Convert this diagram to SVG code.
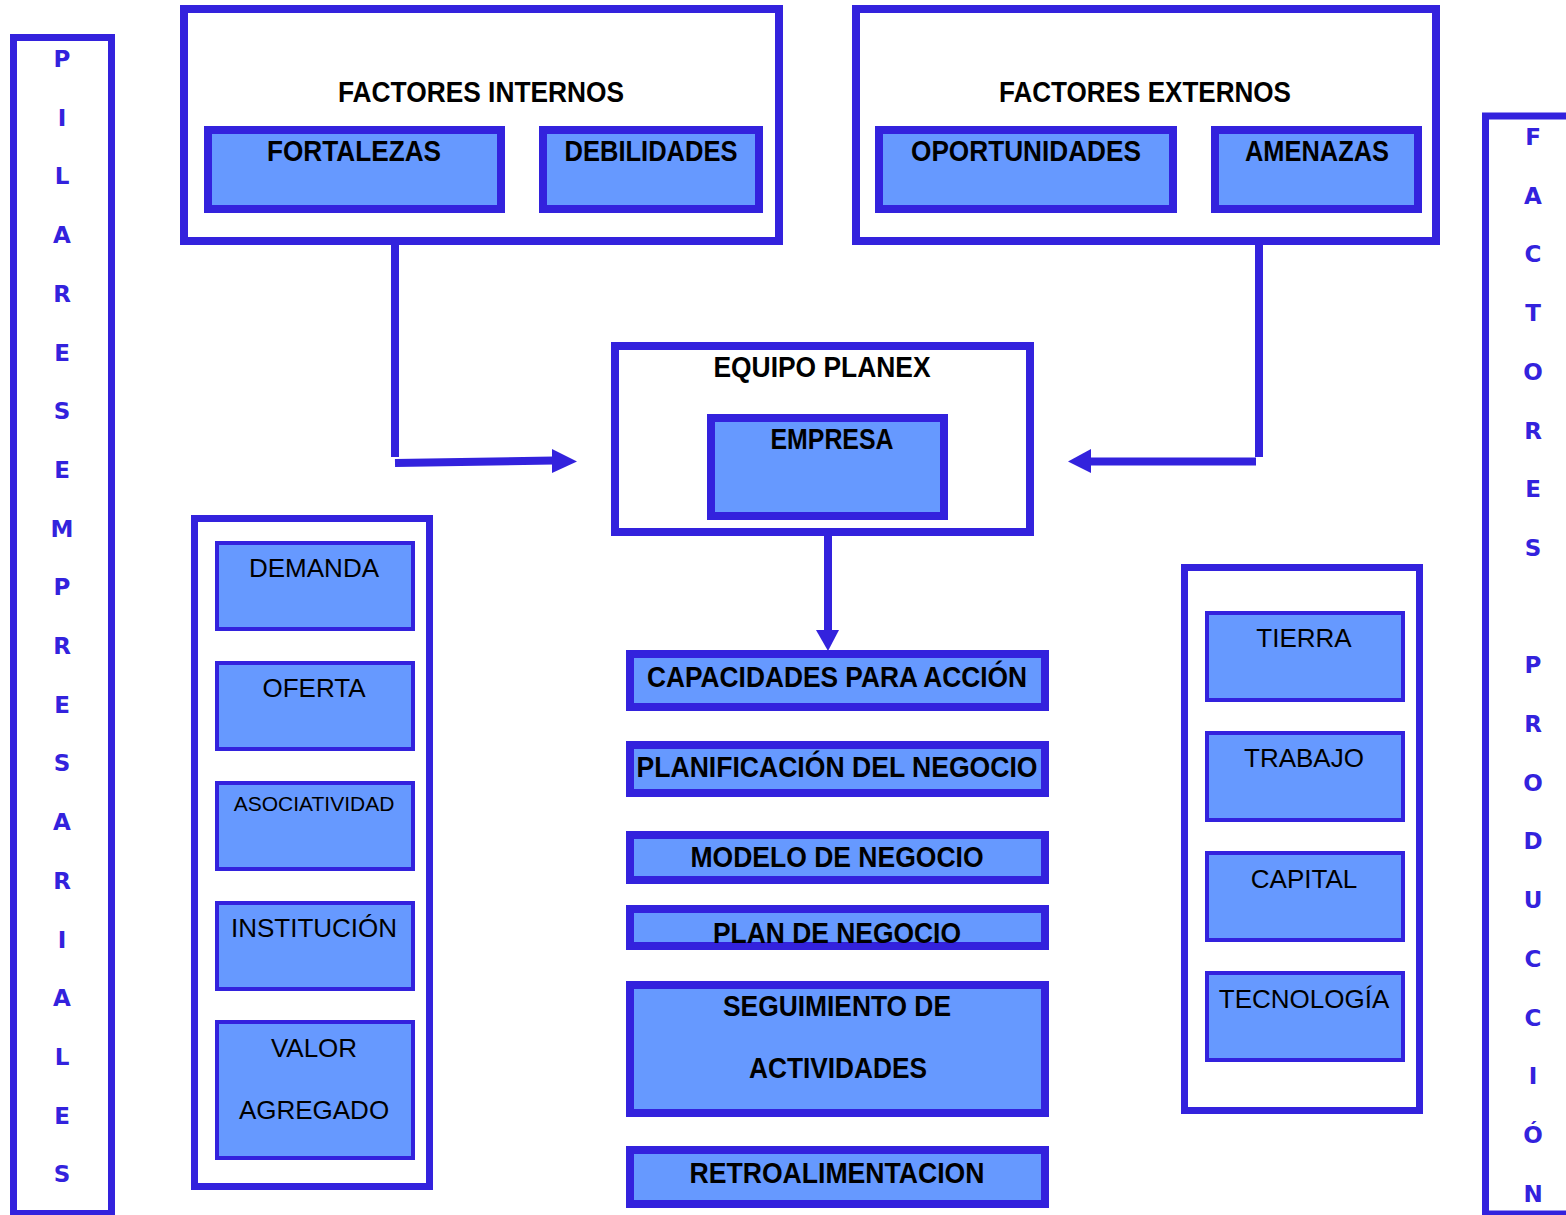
<svg xmlns="http://www.w3.org/2000/svg" width="1566" height="1215" viewBox="0 0 1566 1215">
<style>
.frame{fill:#ffffff;stroke:#3322DD;stroke-width:8}
.panel{fill:#ffffff;stroke:#3322DD;stroke-width:7}
.box{fill:#6699FF;stroke:#3322DD;stroke-width:8}
.sbox{fill:#6699FF;stroke:#3322DD;stroke-width:4}
.tb{font-family:"Liberation Sans",Arial,sans-serif;font-weight:bold;font-size:29px;fill:#000;text-anchor:middle}
.tr{font-family:"Liberation Sans",Arial,sans-serif;font-size:26px;fill:#000;text-anchor:middle}
.vl{font-family:"DejaVu Sans",Verdana,sans-serif;font-weight:bold;font-size:23px;fill:#3322DD;text-anchor:middle}
.conn{stroke:#3322DD;stroke-width:8;fill:none}
.head{fill:#3322DD}
</style>
<rect width="1566" height="1215" fill="#ffffff"/>

<g id="pilares-empresariales">
<rect class="panel" x="13.5" y="37.5" width="98" height="1176"/>
<text class="vl" x="62" y="67">P</text>
<text class="vl" x="62" y="125.7">I</text>
<text class="vl" x="62" y="184.4">L</text>
<text class="vl" x="62" y="243.1">A</text>
<text class="vl" x="62" y="301.8">R</text>
<text class="vl" x="62" y="360.5">E</text>
<text class="vl" x="62" y="419.2">S</text>
<text class="vl" x="62" y="477.9">E</text>
<text class="vl" x="62" y="536.6">M</text>
<text class="vl" x="62" y="595.3">P</text>
<text class="vl" x="62" y="654">R</text>
<text class="vl" x="62" y="712.7">E</text>
<text class="vl" x="62" y="771.4">S</text>
<text class="vl" x="62" y="830.1">A</text>
<text class="vl" x="62" y="888.8">R</text>
<text class="vl" x="62" y="947.5">I</text>
<text class="vl" x="62" y="1006.2">A</text>
<text class="vl" x="62" y="1064.9">L</text>
<text class="vl" x="62" y="1123.6">E</text>
<text class="vl" x="62" y="1182.3">S</text>
</g>

<g id="factores-produccion">
<rect class="panel" x="1485.5" y="116" width="100" height="1098"/>
<text class="vl" x="1533" y="145">F</text>
<text class="vl" x="1533" y="203.7">A</text>
<text class="vl" x="1533" y="262.4">C</text>
<text class="vl" x="1533" y="321.1">T</text>
<text class="vl" x="1533" y="379.8">O</text>
<text class="vl" x="1533" y="438.5">R</text>
<text class="vl" x="1533" y="497.2">E</text>
<text class="vl" x="1533" y="555.9">S</text>
<text class="vl" x="1533" y="673.3">P</text>
<text class="vl" x="1533" y="732">R</text>
<text class="vl" x="1533" y="790.7">O</text>
<text class="vl" x="1533" y="849.4">D</text>
<text class="vl" x="1533" y="908.1">U</text>
<text class="vl" x="1533" y="966.8">C</text>
<text class="vl" x="1533" y="1025.5">C</text>
<text class="vl" x="1533" y="1084.2">I</text>
<text class="vl" x="1533" y="1142.9">Ó</text>
<text class="vl" x="1533" y="1201.6">N</text>
</g>

<g id="factores-internos">
<rect class="frame" x="184" y="9" width="595" height="232"/>
<text class="tb" x="481" y="102" textLength="286" lengthAdjust="spacingAndGlyphs">FACTORES INTERNOS</text>
</g>
<g id="fortalezas">
<rect class="box" x="208" y="130" width="293" height="79"/>
<text class="tb" x="354" y="161" textLength="174" lengthAdjust="spacingAndGlyphs">FORTALEZAS</text>
</g>
<g id="debilidades">
<rect class="box" x="543" y="130" width="216" height="79"/>
<text class="tb" x="651" y="161" textLength="173" lengthAdjust="spacingAndGlyphs">DEBILIDADES</text>
</g>

<g id="factores-externos">
<rect class="frame" x="856" y="9" width="580" height="232"/>
<text class="tb" x="1145" y="102" textLength="292" lengthAdjust="spacingAndGlyphs">FACTORES EXTERNOS</text>
</g>
<g id="oportunidades">
<rect class="box" x="879" y="130" width="294" height="79"/>
<text class="tb" x="1026" y="161" textLength="230" lengthAdjust="spacingAndGlyphs">OPORTUNIDADES</text>
</g>
<g id="amenazas">
<rect class="box" x="1215" y="130" width="203" height="79"/>
<text class="tb" x="1317" y="161" textLength="144" lengthAdjust="spacingAndGlyphs">AMENAZAS</text>
</g>

<g id="equipo-planex">
<rect class="frame" x="615" y="346" width="415" height="186"/>
<text class="tb" x="822" y="377" textLength="217" lengthAdjust="spacingAndGlyphs">EQUIPO PLANEX</text>
</g>
<g id="empresa">
<rect class="box" x="711" y="418" width="233" height="98"/>
<text class="tb" x="832" y="449" textLength="123" lengthAdjust="spacingAndGlyphs">EMPRESA</text>
</g>

<g id="capacidades">
<rect class="box" x="630" y="654" width="415" height="53"/>
<text class="tb" x="837" y="687" textLength="380" lengthAdjust="spacingAndGlyphs">CAPACIDADES PARA ACCIÓN</text>
</g>
<g id="planificacion">
<rect class="box" x="630" y="745" width="415" height="48"/>
<text class="tb" x="837" y="777" textLength="401" lengthAdjust="spacingAndGlyphs">PLANIFICACIÓN DEL NEGOCIO</text>
</g>
<g id="modelo">
<rect class="box" x="630" y="835" width="415" height="45"/>
<text class="tb" x="837" y="867" textLength="293" lengthAdjust="spacingAndGlyphs">MODELO DE NEGOCIO</text>
</g>
<g id="plan">
<rect class="box" x="630" y="909" width="415" height="37"/>
<text class="tb" x="837" y="943" textLength="248" lengthAdjust="spacingAndGlyphs">PLAN DE NEGOCIO</text>
</g>
<g id="seguimiento">
<rect class="box" x="630" y="985" width="415" height="128"/>
<text class="tb" x="837" y="1016" textLength="228" lengthAdjust="spacingAndGlyphs">SEGUIMIENTO DE</text>
<text class="tb" x="838" y="1078" textLength="178" lengthAdjust="spacingAndGlyphs">ACTIVIDADES</text>
</g>
<g id="retroalimentacion">
<rect class="box" x="630" y="1150" width="415" height="54"/>
<text class="tb" x="837" y="1183" textLength="295" lengthAdjust="spacingAndGlyphs">RETROALIMENTACION</text>
</g>

<g id="pilares-panel">
<rect class="panel" x="194.5" y="518.5" width="235" height="668"/>
</g>
<g id="demanda">
<rect class="sbox" x="217" y="543" width="196" height="86"/>
<text class="tr" x="314" y="577">DEMANDA</text>
</g>
<g id="oferta">
<rect class="sbox" x="217" y="663" width="196" height="86"/>
<text class="tr" x="314" y="697">OFERTA</text>
</g>
<g id="asociatividad">
<rect class="sbox" x="217" y="783" width="196" height="86"/>
<text class="tr" x="314" y="811" style="font-size:21px">ASOCIATIVIDAD</text>
</g>
<g id="institucion">
<rect class="sbox" x="217" y="903" width="196" height="86"/>
<text class="tr" x="314" y="937">INSTITUCIÓN</text>
</g>
<g id="valor-agregado">
<rect class="sbox" x="217" y="1022" width="196" height="136"/>
<text class="tr" x="314" y="1057">VALOR</text>
<text class="tr" x="314" y="1119">AGREGADO</text>
</g>

<g id="produccion-panel">
<rect class="panel" x="1184.5" y="567.5" width="235" height="543"/>
</g>
<g id="tierra">
<rect class="sbox" x="1207" y="613" width="196" height="87"/>
<text class="tr" x="1304" y="647">TIERRA</text>
</g>
<g id="trabajo">
<rect class="sbox" x="1207" y="733" width="196" height="87"/>
<text class="tr" x="1304" y="767">TRABAJO</text>
</g>
<g id="capital">
<rect class="sbox" x="1207" y="853" width="196" height="87"/>
<text class="tr" x="1304" y="888">CAPITAL</text>
</g>
<g id="tecnologia">
<rect class="sbox" x="1207" y="973" width="196" height="87"/>
<text class="tr" x="1304" y="1008">TECNOLOGÍA</text>
</g>

<g id="connectors">
<line class="conn" x1="395" y1="244" x2="395" y2="457"/>
<line class="conn" x1="395" y1="463" x2="554" y2="460.5"/>
<polygon class="head" points="552,449 577,461.5 552,473"/>
<line class="conn" x1="1259" y1="244" x2="1259" y2="457"/>
<line class="conn" x1="1256" y1="461.5" x2="1088" y2="461.5"/>
<polygon class="head" points="1091,449 1068,461.5 1091,473"/>
<line class="conn" x1="828" y1="536" x2="828" y2="632"/>
<polygon class="head" points="816,630 839,630 828,651"/>
</g>
</svg>
